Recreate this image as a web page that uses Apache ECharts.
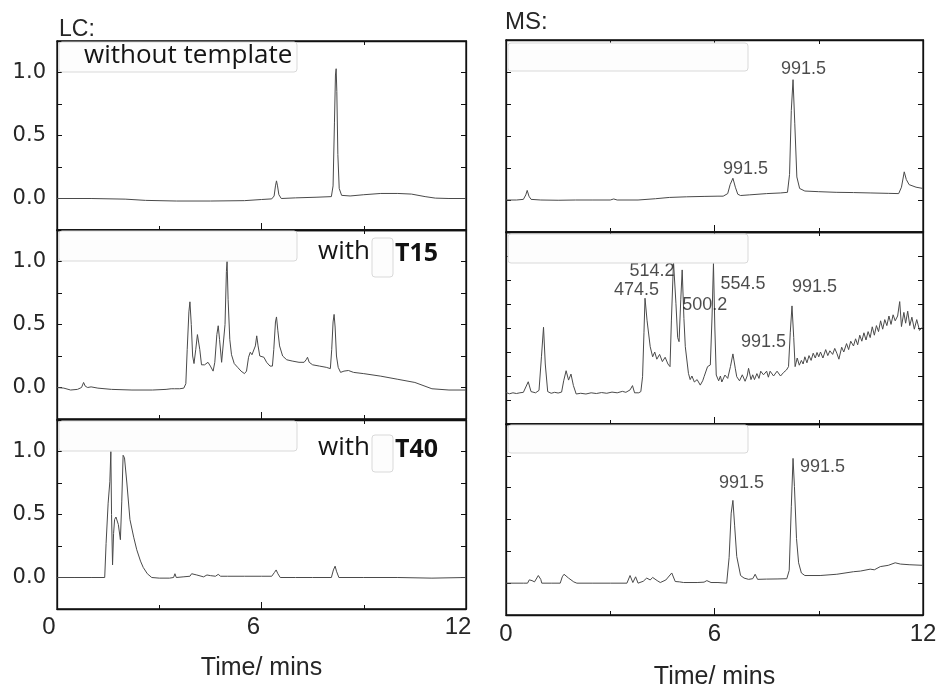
<!DOCTYPE html>
<html>
<head>
<meta charset="utf-8">
<script src="https://cdn.jsdelivr.net/npm/echarts@6/dist/echarts.min.js"></script>
<style>html,body{margin:0;padding:0;background:#fff}#c{width:940px;height:689px}</style>
</head>
<body>
<div id="c"></div>
<script>
// ---- data: [time (min), relative intensity] ----
const lcWithoutTemplate = [[0,0],[1,0],[2,-0.005],[2.6,-0.015],[3.5,-0.02],[4.5,-0.02],[5.5,-0.017],[6.0,-0.008],[6.3,-0.003],[6.37,0.02],[6.41,0.1],[6.44,0.14],[6.47,0.1],[6.51,0.03],[6.58,0.0],[7.0,0.005],[7.6,0.01],[8.05,0.015],[8.1,0.1],[8.14,0.6],[8.17,0.98],[8.19,1.03],[8.21,0.85],[8.24,0.35],[8.28,0.08],[8.35,0.025],[8.6,0.02],[9.0,0.03],[9.5,0.04],[10.0,0.04],[10.4,0.035],[10.8,0.015],[11.1,0.003],[11.5,0.0],[12,0.0]];
const lcWithT15 = [[0,0],[0.2,-0.005],[0.4,-0.02],[0.6,-0.015],[0.72,0.0],[0.78,0.04],[0.83,0.01],[0.9,0.0],[1.0,0.005],[1.2,-0.005],[1.6,-0.015],[2.2,-0.02],[2.8,-0.02],[3.2,-0.015],[3.35,-0.01],[3.4,0.005],[3.45,-0.01],[3.6,-0.01],[3.72,-0.005],[3.78,0.03],[3.82,0.3],[3.87,0.6],[3.9,0.68],[3.94,0.5],[3.98,0.25],[4.02,0.19],[4.07,0.3],[4.12,0.42],[4.15,0.43],[4.19,0.3],[4.24,0.18],[4.33,0.18],[4.43,0.2],[4.5,0.17],[4.58,0.13],[4.63,0.2],[4.69,0.42],[4.73,0.49],[4.77,0.38],[4.83,0.2],[4.88,0.2],[4.93,0.5],[4.97,0.92],[4.99,1.0],[5.02,0.7],[5.07,0.38],[5.12,0.26],[5.2,0.19],[5.3,0.16],[5.4,0.13],[5.5,0.11],[5.56,0.13],[5.62,0.24],[5.67,0.28],[5.72,0.26],[5.77,0.25],[5.82,0.33],[5.86,0.41],[5.9,0.33],[5.95,0.25],[6.0,0.25],[6.07,0.24],[6.15,0.2],[6.25,0.17],[6.32,0.17],[6.36,0.3],[6.41,0.52],[6.44,0.56],[6.48,0.45],[6.53,0.33],[6.62,0.25],[6.74,0.22],[6.9,0.21],[7.1,0.2],[7.25,0.2],[7.31,0.22],[7.35,0.24],[7.4,0.2],[7.5,0.18],[7.7,0.17],[7.9,0.16],[8.02,0.15],[8.06,0.3],[8.1,0.52],[8.13,0.58],[8.16,0.48],[8.2,0.25],[8.25,0.16],[8.32,0.12],[8.42,0.13],[8.55,0.135],[8.7,0.12],[9.0,0.11],[9.5,0.09],[10.0,0.065],[10.5,0.04],[11.0,-0.01],[11.5,-0.02],[12,-0.02]];
const lcWithT40 = [[0,0],[0.5,0],[1.0,0],[1.4,0.0],[1.44,0.27],[1.5,0.59],[1.55,0.76],[1.58,1.0],[1.6,0.5],[1.63,0.1],[1.66,0.35],[1.69,0.46],[1.73,0.48],[1.8,0.42],[1.86,0.3],[1.9,0.6],[1.94,0.97],[1.98,0.95],[2.05,0.75],[2.14,0.46],[2.25,0.32],[2.34,0.22],[2.45,0.13],[2.53,0.08],[2.65,0.03],[2.78,0.0],[3.0,-0.005],[3.3,-0.005],[3.42,0.0],[3.46,0.03],[3.5,0.0],[3.7,0.005],[3.9,0.01],[3.95,0.03],[4.0,0.015],[4.1,0.02],[4.3,0.005],[4.4,0.02],[4.5,0.015],[4.65,0.01],[4.73,0.025],[4.8,0.01],[5.0,0.01],[5.5,0.01],[6.0,0.01],[6.3,0.01],[6.38,0.04],[6.43,0.06],[6.48,0.03],[6.55,0.0],[7.0,0.0],[7.5,0.0],[8.05,0.0],[8.11,0.06],[8.16,0.09],[8.2,0.05],[8.27,0.0],[9,0],[10,0],[11,-0.005],[12,0]];
const msWithoutTemplate = [[0,0],[0.3,0.0],[0.5,0.005],[0.57,0.04],[0.61,0.075],[0.66,0.03],[0.72,0.005],[1.0,0.0],[1.5,-0.002],[2.0,0.0],[2.5,0.0],[3.0,0.0],[3.1,0.008],[3.2,0.0],[3.8,0.0],[4.3,0.01],[4.7,0.02],[5.2,0.025],[5.7,0.028],[6.1,0.03],[6.25,0.03],[6.3,0.028],[6.38,0.05],[6.45,0.12],[6.53,0.17],[6.6,0.1],[6.67,0.045],[6.75,0.035],[7.0,0.04],[7.5,0.05],[7.9,0.055],[8.1,0.06],[8.16,0.2],[8.21,0.7],[8.26,0.94],[8.31,0.6],[8.37,0.18],[8.45,0.09],[8.6,0.07],[9.0,0.065],[9.5,0.06],[10.0,0.058],[10.5,0.055],[11.0,0.052],[11.3,0.05],[11.38,0.1],[11.46,0.22],[11.52,0.16],[11.6,0.12],[11.8,0.1],[12,0.09]];
const msWithT15 = [[0,0.31],[0.1,0.26],[0.2,0.3],[0.3,0.27],[0.4,0.3],[0.5,0.32],[0.55,0.4],[0.64,0.76],[0.72,0.35],[0.85,0.3],[0.95,0.4],[1.02,1.8],[1.08,3.03],[1.13,1.5],[1.2,0.35],[1.3,0.28],[1.4,0.32],[1.5,0.29],[1.6,0.33],[1.66,0.8],[1.73,1.22],[1.8,0.83],[1.87,1.08],[1.94,0.6],[2.02,0.25],[2.15,0.28],[2.3,0.25],[2.45,0.3],[2.6,0.27],[2.75,0.31],[2.9,0.28],[3.05,0.33],[3.2,0.3],[3.35,0.36],[3.45,0.32],[3.57,0.42],[3.64,0.6],[3.7,0.3],[3.82,0.3],[3.88,0.35],[3.93,0.97],[3.97,2.8],[4.0,4.24],[4.06,3.3],[4.15,2.22],[4.22,1.8],[4.28,2.0],[4.34,1.7],[4.42,1.9],[4.5,1.6],[4.58,1.78],[4.66,1.5],[4.72,1.39],[4.76,3.33],[4.82,5.76],[4.89,4.03],[4.94,2.6],[4.98,2.43],[5.03,4.2],[5.07,5.42],[5.12,3.4],[5.16,2.22],[5.25,1.11],[5.3,0.85],[5.35,1.0],[5.42,0.75],[5.5,0.85],[5.59,0.62],[5.66,0.8],[5.7,0.97],[5.8,1.39],[5.88,1.46],[5.93,3.5],[5.97,5.69],[6.01,3.0],[6.05,1.04],[6.12,0.8],[6.17,1.0],[6.21,0.75],[6.3,1.04],[6.38,0.9],[6.46,1.4],[6.53,1.92],[6.6,1.3],[6.64,0.97],[6.72,0.8],[6.8,1.05],[6.88,0.78],[6.94,1.0],[6.98,1.32],[7.05,0.85],[7.1,1.05],[7.15,0.85],[7.22,1.1],[7.28,0.9],[7.33,1.2],[7.41,1.05],[7.5,1.2],[7.55,0.95],[7.6,1.2],[7.7,1.0],[7.8,1.2],[7.9,1.0],[7.99,1.15],[8.07,1.25],[8.13,1.39],[8.18,2.8],[8.23,3.92],[8.28,2.6],[8.32,1.39],[8.38,1.75],[8.44,1.45],[8.5,1.65],[8.55,1.5],[8.6,1.8],[8.66,1.55],[8.72,1.85],[8.78,1.65],[8.84,1.95],[8.9,1.75],[8.95,1.98],[9.0,1.8],[9.05,2.0],[9.12,1.75],[9.2,2.1],[9.26,1.85],[9.32,2.05],[9.4,1.9],[9.46,2.15],[9.52,1.95],[9.58,1.7],[9.66,2.2],[9.72,2.0],[9.8,2.35],[9.86,2.1],[9.92,2.45],[10.0,2.25],[10.06,2.55],[10.12,2.3],[10.18,2.7],[10.24,2.45],[10.3,2.8],[10.36,2.5],[10.42,2.85],[10.48,2.6],[10.54,3.05],[10.6,2.7],[10.66,3.1],[10.72,2.85],[10.78,3.3],[10.84,2.95],[10.9,3.35],[10.96,3.1],[11.02,3.5],[11.08,3.15],[11.14,3.55],[11.2,3.3],[11.27,3.5],[11.33,4.1],[11.38,3.06],[11.45,3.65],[11.5,3.2],[11.56,3.7],[11.62,3.1],[11.68,3.45],[11.75,2.95],[11.82,3.35],[11.9,2.9],[12,3.06]];
const msWithT40 = [[0,0],[0.5,0],[0.62,0.0],[0.67,0.026],[0.75,0.02],[0.82,0.01],[0.93,0.06],[1.0,0.03],[1.03,0.0],[1.3,0.0],[1.56,0.0],[1.62,0.05],[1.67,0.07],[1.8,0.04],[1.95,0.01],[2.04,0.0],[2.5,0.0],[3.0,0.0],[3.48,0.0],[3.57,0.06],[3.65,0.005],[3.73,0.05],[3.8,0.0],[3.95,0.015],[4.05,0.04],[4.15,0.025],[4.22,0.045],[4.35,0.02],[4.44,0.005],[4.6,0.025],[4.77,0.08],[4.87,0.013],[5.0,0.01],[5.11,0.005],[5.5,0.005],[5.7,0.008],[5.78,0.02],[5.9,0.005],[6.1,0.005],[6.35,0.0],[6.42,0.2],[6.48,0.55],[6.53,0.65],[6.58,0.45],[6.64,0.21],[6.75,0.06],[6.85,0.04],[6.98,0.03],[7.1,0.035],[7.17,0.07],[7.24,0.03],[7.5,0.032],[7.8,0.033],[8.08,0.035],[8.15,0.1],[8.21,0.6],[8.26,0.98],[8.3,0.76],[8.36,0.35],[8.42,0.16],[8.5,0.08],[8.6,0.06],[9.04,0.06],[9.52,0.07],[10.0,0.09],[10.2,0.095],[10.48,0.11],[10.6,0.105],[10.77,0.13],[11.0,0.14],[11.2,0.16],[11.35,0.15],[11.6,0.145],[12,0.14]];

// m/z annotations: text and the peak [time, intensity] they label
const msWithoutTemplatePeaks = [['991.5',[6.53,0.17]],['991.5',[8.26,0.94]]];
const msWithT15Peaks = [['474.5',[4.0,4.24]],['514.2',[4.82,5.76]],['500.2',[5.07,5.42]],['554.5',[5.97,5.69]],['991.5',[6.53,1.92]],['991.5',[8.23,3.92]]];
const msWithT40Peaks = [['991.5',[6.53,0.65]],['991.5',[8.26,0.98]]];
// label offsets (px) from the peak, style only
const offTop = [[13,-9],[11,-10]];
const offMid = [[-8,-8],[-21,10],[23,36],[30,21],[31,-11],[23,-18]];
const offBot = [[9,-17],[30,9]];

const xTicks = {min:0, max:12, interval:6};
const lcY = {min:-0.25, max:1.25, interval:0.25};
const msY15 = {min:-1, max:7, interval:1};
const panelNames = ['without template','with','with'];
const templates = ['', 'T15', 'T40'];

const INK = '#262626';
const LINE = '#4a4a4a';
const grids = [
  {left:57, top:41, width:409, height:189},
  {left:57, top:230, width:409, height:189},
  {left:57, top:420, width:409, height:189},
  {left:506, top:40, width:417, height:192},
  {left:506, top:232, width:417, height:192},
  {left:506, top:424, width:417, height:191}
].map(g => Object.assign({show:true, borderColor:'#111', borderWidth:1.3, backgroundColor:'transparent',
  containLabel:false, outerBoundsMode:'none'}, g));

const xAxis = [], yAxis = [];
const axLine = {show:true, onZero:false, lineStyle:{color:'#111', width:1.3}};
for (let i = 0; i < 6; i++) {
  const bottomPanel = (i === 2 || i === 5);
  const isLeft = i < 3;
  const tick = {show:true, inside:true, length:7, lineStyle:{color:'#111', width:1}};
  const minor = {show:true, splitNumber:2, length:4, lineStyle:{color:'#111', width:1}};
  xAxis.push({
    gridIndex:i, type:'value', position:'bottom', min:xTicks.min, max:xTicks.max, interval:xTicks.interval,
    axisLine:axLine, axisTick:tick, minorTick:minor, splitLine:{show:false},
    axisLabel:{show:bottomPanel, color:INK, fontFamily:'Liberation Sans', fontSize:24, margin: isLeft ? 6 : 7,
      padding: isLeft ? [0,16,0,0] : [0,0,0,0]},
    name: bottomPanel ? 'Time/ mins' : '', nameLocation:'middle', nameGap: isLeft ? 47 : 50,
    nameTextStyle:{color:INK, fontFamily:'Liberation Sans', fontSize:25}
  });
  xAxis.push({
    gridIndex:i, type:'value', position:'top', min:xTicks.min, max:xTicks.max, interval:xTicks.interval,
    axisLine:axLine, axisTick:tick, minorTick:minor, splitLine:{show:false}, axisLabel:{show:false}
  });
  const yr = (i === 4) ? msY15 : lcY;
  const ytick = {show:true, inside:true, length:5, lineStyle:{color:'#111', width:1}};
  yAxis.push({
    gridIndex:i, type:'value', position:'left', min:yr.min, max:yr.max, interval:yr.interval,
    axisLine:axLine, axisTick:ytick, splitLine:{show:false},
    axisLabel:{show:isLeft, color:INK, fontFamily:'DejaVu Sans', fontSize:21, margin:11,
      formatter: v => (v >= 0 && v <= 1 && Math.abs(v*2 - Math.round(v*2)) < 1e-6) ? v.toFixed(1) : ''}
  });
  yAxis.push({
    gridIndex:i, type:'value', position:'right', min:yr.min, max:yr.max, interval:yr.interval,
    axisLine:axLine, axisTick:ytick, splitLine:{show:false}, axisLabel:{show:false}
  });
}

const traces = [lcWithoutTemplate, lcWithT15, lcWithT40, msWithoutTemplate, msWithT15, msWithT40];
const series = traces.map((d, i) => ({
  type:'line', xAxisIndex:2*i, yAxisIndex:2*i, data:d, showSymbol:false, symbol:'none',
  lineStyle:{color:LINE, width:1}, clip:true, silent:true, z:3
}));
function annot(peaks, offs, i) {
  return {
    type:'scatter', xAxisIndex:2*i, yAxisIndex:2*i, symbolSize:1, itemStyle:{color:'rgba(0,0,0,0)'},
    silent:true, z:5,
    data: peaks.map((p, k) => ({
      value:p[1],
      label:{show:true, formatter:p[0], position:offs[k], align:'center', verticalAlign:'middle',
        color:'#1e1e1e', fontFamily:'Liberation Sans', fontSize:18}
    }))
  };
}
series.push(annot(msWithoutTemplatePeaks, offTop, 3));
series.push(annot(msWithT15Peaks, offMid, 4));
series.push(annot(msWithT40Peaks, offBot, 5));

const boxStyle = {fill:'#fdfdfd', stroke:'#d9d9d9', lineWidth:1};
const graphic = [
  {type:'text', left:59, top:18, style:{text:'LC:', font:'23px "Liberation Sans"', fill:INK}},
  {type:'text', left:505, top:10, style:{text:'MS:', font:'24px "Liberation Sans"', fill:INK}},
  // legend boxes
  {type:'rect', shape:{x:59, y:42, width:238, height:30, r:3}, style:boxStyle, z:10},
  {type:'rect', shape:{x:59, y:231, width:238, height:30, r:3}, style:boxStyle, z:10},
  {type:'rect', shape:{x:59, y:421, width:238, height:30, r:3}, style:boxStyle, z:10},
  {type:'rect', shape:{x:508, y:43, width:240, height:28, r:3}, style:boxStyle, z:10},
  {type:'rect', shape:{x:508, y:234, width:240, height:29, r:3}, style:boxStyle, z:10},
  {type:'rect', shape:{x:508, y:425, width:240, height:28, r:3}, style:boxStyle, z:10},
  {type:'text', left:84, top:43, z:11, style:{text:panelNames[0], font:'26px "Open Sans"', fill:'#141414'}},
  {type:'text', left:318, top:239, z:11, style:{text:panelNames[1], font:'26px "Open Sans"', fill:'#141414'}},
  {type:'rect', shape:{x:372, y:238, width:21, height:39, r:3}, style:boxStyle, z:10},
  {type:'text', left:395, top:241, z:11, style:{text:templates[1], font:'bold 25px "Open Sans"', fill:'#111'}},
  {type:'text', left:318, top:435, z:11, style:{text:panelNames[2], font:'26px "Open Sans"', fill:'#141414'}},
  {type:'rect', shape:{x:372, y:435, width:21, height:37, r:3}, style:boxStyle, z:10},
  {type:'text', left:395, top:437, z:11, style:{text:templates[2], font:'bold 25px "Open Sans"', fill:'#111'}}
];

const chart = echarts.init(document.getElementById('c'), null, {renderer:'canvas'});
chart.setOption({animation:false, backgroundColor:'#fff', grid:grids, xAxis, yAxis, series, graphic});
</script>
</body>
</html>
